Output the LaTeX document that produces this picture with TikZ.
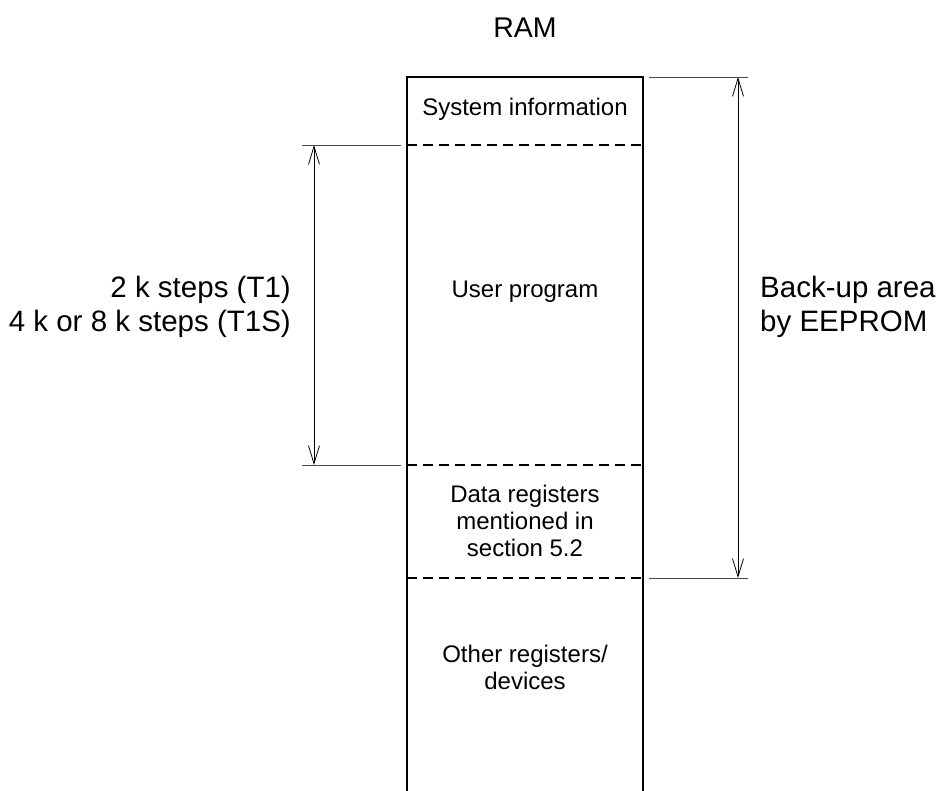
\documentclass[tikz,border=0pt]{standalone}
\usepackage{fontspec}
\setmainfont{Liberation Sans}
\usetikzlibrary{arrows.meta, positioning}

\begin{document}
\begin{tikzpicture}[
    x=1pt, y=-1pt,
    wall/.style={line width=2pt},
    sep/.style={line width=1.6pt, dash pattern=on 10pt off 6pt},
    ext/.style={line width=0.8pt, black!70},
    dim/.style={{Straight Barb[length=18pt,width=11pt]}-{Straight Barb[length=18pt,width=11pt]}, line width=0.8pt},
    lbl/.style={inner sep=0pt, align=center, font={\fontsize{24}{27}\selectfont}},
    big/.style={inner sep=0pt, font={\fontsize{29.5}{34}\selectfont}}
]
\useasboundingbox (0,0) rectangle (939,791);

% RAM column
\coordinate (tl) at (407,77);
\coordinate (tr) at (643,77);
\coordinate (bl) at (407,791);
\coordinate (br) at (643,791);
\draw[wall] (bl) -- (tl) -- (tr) -- (br);

\coordinate (s1l) at (407,145);
\coordinate (s1r) at (643,145);
\coordinate (s2l) at (407,465);
\coordinate (s2r) at (643,465);
\coordinate (s3l) at (407,578);
\coordinate (s3r) at (643,578);
\draw[sep] (s1l) -- (s1r);
\draw[sep] (s2l) -- (s2r);
\draw[sep] (s3l) -- (s3r);

\node[big, font={\fontsize{28.5}{34}\selectfont}] (ram) at (525,28) {RAM};
\node[lbl] (sys) at (525,109) {System information};
\node[lbl] (prog) at (525,292) {User program};
\node[lbl] (data) at (525,521) {Data registers\\mentioned in\\section 5.2};
\node[lbl] (other) at (525,667) {Other registers/\\devices};

% Program size
\coordinate (pa) at (302,145);
\coordinate (pb) at (401,145);
\coordinate (pc) at (302,465);
\coordinate (pd) at (401,465);
\coordinate (pt) at (314,145);
\coordinate (pu) at (314,465);
\draw[ext] (pa) -- (pb);
\draw[ext] (pc) -- (pd);
\draw[dim] (pt) -- (pu);
\node[big, anchor=east, align=right] (steps) at (291,307) {2 k steps (T1)\\4 k or 8 k steps (T1S)};

% Back-up area
\coordinate (ba) at (649,77);
\coordinate (bb) at (748,77);
\coordinate (bc) at (649,578);
\coordinate (bd) at (748,578);
\coordinate (bt) at (738,77);
\coordinate (bu) at (738,578);
\draw[ext] (ba) -- (bb);
\draw[ext] (bc) -- (bd);
\draw[dim] (bt) -- (bu);
\node[big, anchor=west, align=left] (backup) at (760,307) {Back-up area\\by EEPROM};
\end{tikzpicture}
\end{document}
